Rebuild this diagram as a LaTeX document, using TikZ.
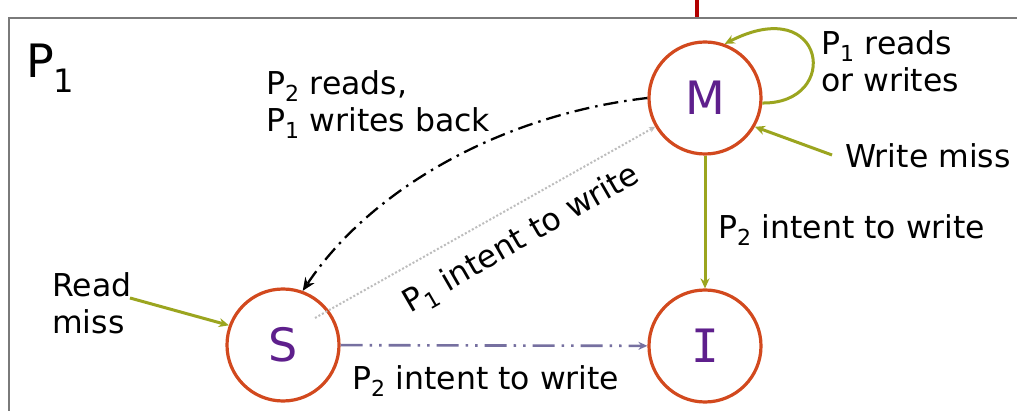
\documentclass[tikz,border=0pt]{standalone}
\usepackage{fontspec}
\setmainfont{DejaVu Sans}
\newfontfamily\monofam{DejaVu Sans Mono}
\usetikzlibrary{arrows.meta}
\definecolor{ring}{HTML}{D2491E}
\definecolor{olive}{HTML}{9BA51F}
\definecolor{stname}{HTML}{5E1F8C}
\definecolor{frame}{HTML}{7A7A7A}
\definecolor{lav}{HTML}{7670A0}
\definecolor{dotgray}{HTML}{BDBDBD}
\newcommand\psub[1]{\textsubscript{#1}}
\begin{document}
\begin{tikzpicture}[x=1pt,y=-1pt,
  state/.style={circle,draw=ring,line width=3.2pt,minimum size=112pt,inner sep=0pt,
    text=stname,font=\fontsize{46}{50}\selectfont},
  lbl/.style={font=\fontsize{31.5}{37}\selectfont,text=black,inner sep=0pt,align=left},
  oarrow/.style={draw=olive,line width=3pt,-{Stealth[length=10pt,width=9pt]}},
  ]
  \useasboundingbox (0,0) rectangle (1017,411);
  \fill[white] (0,0) rectangle (1017,411);
  % outer frame
  \draw[frame,line width=2.2pt] (9,411) -- (9,18) -- (1017,18);
  \draw[red!70!black,line width=3.2pt] (697,0) -- (697,17);

  % states
  \node[state] (M) at (705,98) {M};
  \node[state] (S) at (283,345) {S};
  \node[state] (I) at (705,346) {{\monofam I}};

  \node[lbl,anchor=west,font=\fontsize{46}{50}\selectfont] (p1) at (26,68) {P\psub{1}};

  % transitions
  \draw[oarrow] (M.-5) .. controls (842,104) and (826,-8) .. (M.70);
  \coordinate (wm) at (832,155);
  \draw[oarrow] (wm) -- (M.-30);
  \draw[oarrow] (M) -- (I);
  \coordinate (rm) at (130,298);
  \draw[oarrow] (rm) -- (S.160);
  \draw[black,line width=2.3pt,dash pattern=on 15pt off 6pt on 2.5pt off 6pt,
    -{Stealth[length=13pt,width=11pt]}]
    (M.180) .. controls (500,115) and (370,190) .. (S.70);
  \draw[dotgray,line width=2pt,dotted,-{Stealth[length=6pt,width=6pt]}]
    (S.center) ++(32,-27) -- (M.-150);
  \draw[lav,line width=2.6pt,dash pattern=on 22pt off 7pt on 2.5pt off 7pt on 2.5pt off 7pt,
    -{Stealth[length=9pt,width=8pt]}] (S) -- (I);

  % labels
  \node[lbl,anchor=north west] (t1) at (266,70) {P\psub{2} reads,\\P\psub{1} writes back};
  \node[lbl,anchor=north west] (t2) at (821,30) {P\psub{1} reads\\or writes};
  \node[lbl,anchor=west] (t3) at (845,156) {Write miss};
  \node[lbl,anchor=west] (t4) at (718,230) {P\psub{2} intent to write};
  \node[lbl,anchor=north west] (t5) at (52,272) {Read\\miss};
  \node[lbl,anchor=west] (t6) at (352,381) {P\psub{2} intent to write};
  \node[lbl,rotate=30] (t7) at (522,240) {P\psub{1} intent to write};
\end{tikzpicture}
\end{document}
